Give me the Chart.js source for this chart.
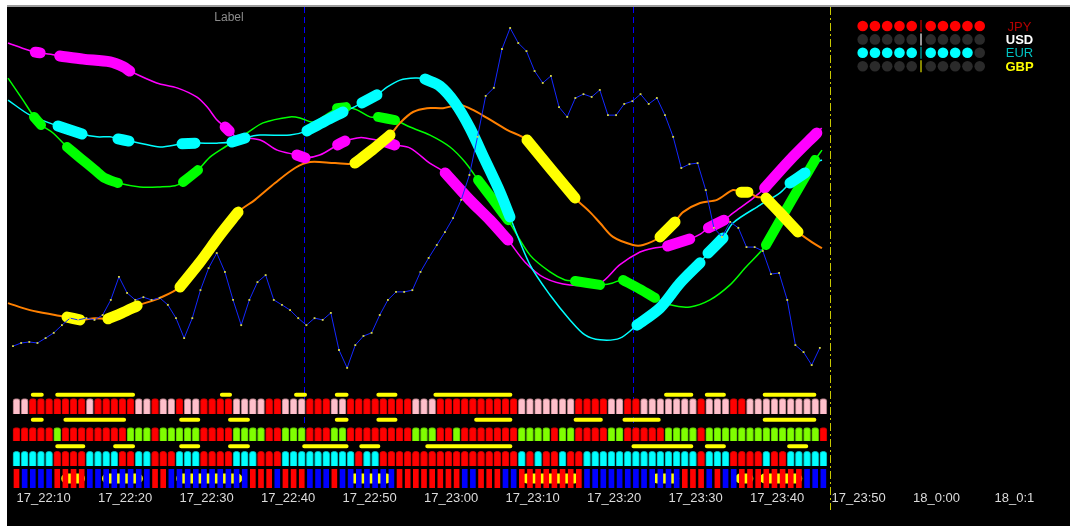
<!DOCTYPE html>
<html>
<head>
<meta charset="utf-8">
<script src="https://cdn.jsdelivr.net/npm/chart.js@4.4.1/dist/chart.umd.min.js"></script>
<style>
  html, body { margin: 0; padding: 0; background: #fff; }
  body { width: 1070px; height: 526px; overflow: hidden; position: relative; }
  #frame { position: absolute; left: 7px; top: 5px; width: 1063px; height: 521px; border-top: 2px solid #9c9c9c; box-sizing: border-box; background: #000; }
  canvas { display: block; }
</style>
</head>
<body>
<div id="frame"><canvas id="strengthChart" width="1063" height="519"></canvas></div>
<script>
// time axis: one bar per minute, minute 0 = 17_22:10
const tickMinutes = [0, 10, 20, 30, 40, 50, 60, 70, 80, 90, 100, 110, 120];
const tickLabels = ['17_22:10', '17_22:20', '17_22:30', '17_22:40', '17_22:50', '17_23:00',
    '17_23:10', '17_23:20', '17_23:30', '17_23:40', '17_23:50', '18_0:00', '18_0:1'];

// strength lines, [minute, value]
const magentaLine = [[-1.04,93.7],[1.4,91.7],[2.3,91.1],[2.9,90.9],[4.7,90.3],[5.3,90.0],[8.2,89.1],[11.5,88.3],[13.1,86.9],[13.9,85.7],
    [17.2,82.3],[19.7,80.9],[22.1,78.3],[23.4,75.4],[24.6,71.7],[25.6,69.7],[26.1,68.6],[27.0,66.9],[29.9,66.0],[32.0,63.1],
    [34.4,61.7],[35.4,60.9],[37.2,61.7],[39.4,64.6],[40.3,65.7],[41.8,66.6],[42.8,66.6],[45.3,65.4],[46.4,64.6],[48.3,63.7],
    [50.7,59.4],[52.6,56.6],[55.6,48.9],[58.1,43.1],[60.3,37.4],[62.4,31.1],[64.8,26.6],[67.9,24.6],[71.6,25.1],[74.0,30.3],
    [76.5,34.0],[78.1,35.1],[79.9,35.7],[82.6,37.7],[83.9,39.1],[84.9,40.9],[86.8,43.1],[87.9,45.1],[90.4,49.4],[91.8,52.3],
    [94.9,60.3],[98.2,68.0],[98.8,69.4]];
const magentaThick = [[2.3,2.9],[5.3,13.9],[25.6,26.1],[34.4,35.4],[39.4,40.3],[45.3,46.4],[52.6,60.3],[79.9,82.6],[84.9,86.8],[91.8,98.2]];

const greenLine = [[-1.04,83.7],[0.8,77.4],[2.15,72.6],[3.01,70.3],[4.48,68.0],[6.2,64.0],[7.79,60.9],[9.63,57.4],[10.86,55.1],[12.45,53.7],
    [15.15,52.6],[17.61,52.6],[19.45,52.9],[20.43,54.0],[22.27,57.4],[23.74,61.1],[25.58,64.0],[28.28,68.0],[30.25,70.9],[33.56,72.6],
    [34.79,72.3],[36.38,71.1],[37.6,72.6],[39.33,75.1],[40.43,75.4],[41.78,74.6],[43.37,72.6],[44.36,72.6],[46.44,71.7],[48.28,69.7],
    [50.74,67.4],[53.19,64.0],[55.03,59.7],[56.63,54.6],[58.47,48.9],[60.31,43.1],[63.01,33.1],[65.46,28.3],[67.3,26.0],[68.53,25.7],
    [71.6,24.6],[73.07,25.1],[74.42,26.0],[76.5,23.4],[78.34,20.9],[80.18,18.9],[82.64,18.3],[85.09,20.3],[87.55,24.6],[89.39,29.4],
    [91.96,36.0],[94.91,48.0],[97.98,60.3],[98.83,63.1]];
const greenThick = [[2.15,3.01],[6.2,12.45],[20.43,22.27],[39.33,40.43],[44.36,46.44],[56.63,60.31],[68.53,71.6],[74.42,78.34],[91.96,97.98]];

const cyanLine = [[-1.04,77.4],[1.66,73.1],[5.09,70.0],[8.04,67.7],[9.88,66.9],[11.47,66.9],[12.45,66.3],[13.8,65.7],[15.15,65.1],[17.61,64.0],
    [20.31,64.9],[21.9,65.1],[24.6,65.1],[26.44,65.4],[28.04,66.6],[29.88,67.4],[33.56,67.4],[35.64,68.6],[37.85,71.4],[40.06,74.0],
    [41.16,75.1],[42.39,76.6],[44.23,78.9],[45.46,81.1],[47.06,83.1],[48.9,83.7],[50.12,83.4],[51.96,81.4],[53.8,76.6],[55.64,69.4],
    [57.48,60.3],[59.33,51.1],[60.55,44.0],[63.01,30.3],[65.46,21.7],[67.91,14.6],[69.75,10.3],[71.6,8.9],[74.05,9.4],[76.13,13.1],
    [78.96,18.0],[81.41,25.1],[83.87,30.9],[84.85,33.7],[86.69,38.0],[87.91,42.3],[91.23,47.4],[93.68,50.9],[94.91,53.7],[96.75,56.6],
    [98.22,59.7],[98.83,60.3]];
const cyanThick = [[5.09,8.04],[12.45,13.8],[20.31,21.9],[26.44,28.04],[35.64,40.06],[42.39,44.23],[50.12,60.55],[76.13,83.87],[84.85,86.69],[94.91,96.75]];

const orangeLine = [[-1.04,19.4],[1.66,17.4],[4.72,16.0],[6.2,15.4],[7.79,14.6],[9.63,15.1],[11.23,14.9],[12.94,16.6],[14.79,18.6],[17.61,20.9],
    [20.06,24.0],[22.52,31.1],[24.97,38.9],[27.18,45.4],[29.26,48.9],[31.72,53.7],[34.17,58.0],[36.01,59.7],[39.08,59.4],[41.53,59.4],
    [43.62,63.1],[45.83,67.4],[47.06,70.9],[48.65,74.0],[50.37,75.1],[52.33,75.1],[54.42,76.0],[56.01,74.6],[57.73,72.3],[60.18,68.9],
    [62.64,66.0],[65.46,58.0],[68.53,49.4],[70.37,45.4],[71.6,42.3],[73.19,38.3],[75.64,36.0],[76.87,36.0],[78.96,38.3],[80.8,42.6],
    [81.78,45.4],[83.87,48.0],[85.95,48.9],[87.91,51.7],[88.9,51.1],[89.75,51.1],[90.86,49.7],[91.96,49.4],[93.93,44.6],[95.89,39.7],
    [97.73,36.6],[98.83,35.1]];
const yellowThick = [[6.2,7.79],[11.23,14.79],[20.06,27.18],[41.53,45.83],[62.64,68.53],[78.96,80.8],[88.9,89.75],[91.96,95.89]];

// price line, one value per minute
const blueVals = [7.1,8.0,8.3,8.0,9.4,10.9,13.1,15.1,14.6,15.1,
    14.6,16.0,20.3,26.9,22.3,20.3,21.1,20.3,20.9,18.9,
    15.1,9.4,15.1,23.1,29.4,33.7,28.3,20.3,13.1,20.3,
    25.4,27.4,20.3,18.9,17.4,15.1,13.1,15.1,14.6,16.6,
    6.0,0.9,7.4,10.0,10.9,16.0,20.3,22.6,22.6,23.1,
    28.3,32.3,36.0,39.7,43.7,48.9,56.0,66.9,78.6,80.9,
    92.0,98.0,93.7,91.4,85.7,82.3,84.3,75.4,72.6,78.0,
    79.1,78.3,80.3,73.1,73.1,76.3,77.1,79.1,76.3,78.0,
    73.1,66.9,58.0,59.1,59.4,51.7,40.9,38.3,42.6,40.9,
    35.4,35.4,34.3,27.7,28.0,20.3,7.4,5.4,1.7,6.6];

// signal rows, one letter per minute
const rowA = 'PPRRRRRRRPRRRRRPPRPPRPPRR' + 'RRPPPPRRPPPRRRPPRRRRRRRRP' + 'PPRRRRRRRRRRPPPPPPPRRRRPP' + 'RRPPPPPPPRPPPRRPPPPPPPPPP';
const rowB = 'RRRRRGRRRRRRRRGGGRGGGGGRR' + 'RRGGGGRRGGGRRRGGRRRRRRRRG' + 'GGRRGRRRRRRRGGGGRGGRRRRGG' + 'RRRRRGGGGRGGGGGGGGGGGGGGR';
const rowC = 'CCCCCRRRRCCCCRRCCRRRCCCRR' + 'RRCCCRRRCCCCCCCCCRCCRRRRR' + 'RRRRRRRRRRRRCRCRRCRRCCCCC' + 'CCCCCCCCCRCCCRRRRCRRCCCCC';
const rowD = 'RBBBBRRRRBBBBBBBBRRBBBBBB' + 'BBBBRRRBRRRBBBRBBBBBBBRRR' + 'RRRRRBBRRRBBRRRRRRRRBBBBB' + 'BBBBBBBRRRBRBBRRRRRRRRBBB';

// yellow signal spans per row [from, to] in minutes
const signalA = [[2.0,3.1],[5.0,14.3],[25.2,26.2],[34.3,35.4],[39.3,40.5],[44.4,46.5],[51.4,60.6],[79.7,82.8],[84.7,86.8],[91.8,97.9]];
const signalB = [[2.0,3.1],[6.0,13.2],[20.2,22.3],[26.2,28.4],[39.3,40.5],[44.4,46.5],[56.4,60.6],[68.6,71.7],[74.6,78.8],[91.8,97.9]];
const signalC = [[5.0,8.2],[12.1,14.3],[20.2,22.3],[26.2,28.4],[35.3,40.5],[42.3,44.4],[50.4,60.6],[75.7,82.8],[84.7,86.8],[94.8,96.9]];
const signalD = [[6.1,7.8],[11.1,14.9],[20.2,27.1],[41.4,45.4],[62.6,68.5],[78.6,80.7],[88.8,89.8],[91.8,95.8]];

// period separators and current bar
const separators = [35.3, 75.65];
const nowMinute = 99.8;

// currency legend
const legendNames = ['JPY', 'USD', 'EUR', 'GBP'];
const legendDots = [10, 0, 9, 0];

// ---- layout / style ----
const X_MIN = -1.1656, X_MAX = 129.264;
const ROW_A = [76, 91.5], ROW_B = [49, 62.5], ROW_C = [24, 38.7], ROW_D = [2.3, 20.7];
const SIG_A = 95.3, SIG_B = 70.2, SIG_C = 43.7, SIG_D = 11.5;
const BLUE_SHIFT = -0.43;

const fillColors = { P: '#ffc0cb', R: '#ff0000', G: '#80ff00', C: '#00ffff', B: '#0000ff' };
const edgeColors = { P: '#a07078', R: '#c00000', G: '#58b800', C: '#00aaaa', B: '#0000c0' };
const legendColors = ['#ff0000', '#ffffff', '#00ffff', '#ffff00'];
const legendText = ['#b40000', '#ffffff', '#00c0c0', '#ffff00'];
const legendBold = [false, true, false, true];
const legendSep = ['#a00000', '#c8c8c8', '#008c8c', '#b4b400'];

Chart.defaults.font.family = "'Liberation Sans', Arial, sans-serif";

function linePts(pts) {
    return pts.map(p => ({ x: p[0], y: p[1] }));
}

function thickPts(pts, ranges) {
    const out = [];
    ranges.forEach(r => {
        pts.filter(p => p[0] >= r[0] - 1e-6 && p[0] <= r[1] + 1e-6)
            .forEach(p => out.push({ x: p[0], y: p[1] }));
        out.push({ x: r[1] + 0.01, y: null });
    });
    return out;
}

function spanPts(ranges, level) {
    const out = [];
    ranges.forEach(r => {
        out.push({ x: r[0], y: level }, { x: r[1], y: level }, { x: r[1] + 0.01, y: null });
    });
    return out;
}

function barRow(states, span, thick, rounded, order) {
    const letters = states.split('');
    return {
        type: 'bar',
        yAxisID: 'yb',
        data: letters.map((s, i) => ({ x: i, y: span })),
        backgroundColor: letters.map(s => fillColors[s]),
        borderColor: letters.map(s => edgeColors[s]),
        borderWidth: rounded ? 1 : 0,
        borderSkipped: 'bottom',
        borderRadius: rounded ? { topLeft: 3, topRight: 3, bottomLeft: 0, bottomRight: 0 } : 0,
        barThickness: thick,
        maxBarThickness: thick,
        grouped: false,
        order: order
    };
}

function thinLine(pts, color, width, order) {
    return { type: 'line', yAxisID: 'y', data: linePts(pts), borderColor: color, borderWidth: width,
        pointRadius: 0, tension: 0.3, order: order };
}

function thickLine(pts, ranges, color, width, order) {
    return { type: 'line', yAxisID: 'y', data: thickPts(pts, ranges), borderColor: color, borderWidth: width,
        borderCapStyle: 'round', borderJoinStyle: 'round', pointRadius: 0, tension: 0.3, spanGaps: false, order: order };
}

function signalLine(ranges, level, width, order) {
    return { type: 'line', yAxisID: 'yb', data: spanPts(ranges, level), borderColor: '#ffff00', borderWidth: width,
        borderCapStyle: 'round', pointRadius: 0, spanGaps: false, order: order };
}

// separators, labels and legend
const overlayPlugin = {
    id: 'overlay',
    beforeDatasetsDraw(chart) {
        const { ctx, chartArea, scales } = chart;
        ctx.save();
        ctx.strokeStyle = '#0000ff';
        ctx.lineWidth = 1;
        ctx.setLineDash([6, 4]);
        const yEnd = scales.yb.getPixelForValue(62);
        separators.forEach(m => {
            const x = Math.round(scales.x.getPixelForValue(m)) + 0.5;
            ctx.beginPath();
            ctx.moveTo(x, chartArea.top);
            ctx.lineTo(x, yEnd);
            ctx.stroke();
        });
        ctx.restore();
    },
    afterDraw(chart) {
        const { ctx, chartArea, scales } = chart;
        ctx.save();

        // current bar marker
        const nx = Math.round(scales.x.getPixelForValue(nowMinute)) + 0.5;
        ctx.strokeStyle = '#c8c800';
        ctx.lineWidth = 1;
        ctx.setLineDash([8, 3, 2, 3]);
        ctx.beginPath();
        ctx.moveTo(nx, chartArea.top);
        ctx.lineTo(nx, scales.yb.getPixelForValue(-20));
        ctx.stroke();
        ctx.setLineDash([]);

        // window label
        ctx.fillStyle = '#8c8c8c';
        ctx.font = "12px 'Liberation Sans', Arial";
        ctx.textAlign = 'center';
        ctx.textBaseline = 'middle';
        ctx.fillText('Label', 222, 11);

        // currency dots
        const groupX = [855.7, 923.7];
        legendNames.forEach((name, r) => {
            const y = 19 + r * 13.4;
            for (let k = 0; k < 10; k++) {
                const x = groupX[Math.floor(k / 5)] + (k % 5) * 12.25;
                ctx.fillStyle = k < legendDots[r] ? legendColors[r] : '#2a2a2a';
                ctx.beginPath();
                ctx.arc(x, y, 5.3, 0, Math.PI * 2);
                ctx.fill();
            }
            ctx.strokeStyle = legendSep[r];
            ctx.lineWidth = 1.5;
            ctx.beginPath();
            ctx.moveTo(914, y - 6);
            ctx.lineTo(914, y + 6);
            ctx.stroke();

            ctx.fillStyle = legendText[r];
            ctx.font = (legendBold[r] ? 'bold ' : '') + "13px 'Liberation Sans', Arial";
            ctx.fillText(name, 1012.5, y + 1);
        });
        ctx.restore();
    }
};

const ctx = document.getElementById('strengthChart');
new Chart(ctx, {
    type: 'line',
    data: {
        datasets: [
            {
                type: 'line', yAxisID: 'y',
                data: blueVals.map((v, i) => ({ x: i + BLUE_SHIFT, y: v })),
                borderColor: '#1428ff', borderWidth: 1, tension: 0,
                pointRadius: 1.3, pointStyle: 'rect', pointBackgroundColor: '#d8d840', pointBorderWidth: 0,
                order: 1
            },
            thickLine(orangeLine, yellowThick, '#ffff00', 11, 2),
            thickLine(cyanLine, cyanThick, '#00ffff', 11, 3),
            thickLine(magentaLine, magentaThick, '#ff00ff', 11, 4),
            thickLine(greenLine, greenThick, '#00ff00', 10, 5),
            thinLine(orangeLine, '#ff8000', 2, 6),
            thinLine(cyanLine, '#00ffff', 1.5, 7),
            thinLine(greenLine, '#00ff00', 1.5, 8),
            thinLine(magentaLine, '#ff00ff', 1.5, 9),
            signalLine(signalA, SIG_A, 4, 10),
            signalLine(signalB, SIG_B, 4, 10),
            signalLine(signalC, SIG_C, 4, 10),
            barRow(rowA, ROW_A, 7, true, 11),
            barRow(rowB, ROW_B, 7, true, 11),
            barRow(rowC, ROW_C, 7, true, 11),
            barRow(rowD, ROW_D, 5, false, 11),
            signalLine(signalD, SIG_D, 10, 12)
        ]
    },
    options: {
        responsive: false,
        animation: false,
        layout: { padding: 0, autoPadding: false },
        plugins: {
            legend: { display: false },
            tooltip: { enabled: false }
        },
        scales: {
            x: {
                type: 'linear',
                min: X_MIN,
                max: X_MAX,
                offset: false,
                grid: { display: false, drawTicks: false, offset: false },
                border: { display: false },
                afterBuildTicks: scale => {
                    scale.ticks = tickMinutes.map(v => ({ value: v }));
                },
                afterFit: scale => {
                    scale.height = 36;
                },
                ticks: {
                    autoSkip: false,
                    maxRotation: 0,
                    minRotation: 0,
                    align: 'start',
                    padding: 1,
                    color: '#dcdcdc',
                    font: { size: 13 },
                    callback: function(value) {
                        const k = tickMinutes.indexOf(value);
                        return k >= 0 ? tickLabels[k] : '';
                    }
                }
            },
            y: { type: 'linear', display: false, min: -34, max: 104 },
            yb: { type: 'linear', display: false, min: 0, max: 483 }
        }
    },
    plugins: [overlayPlugin]
});
</script>
</body>
</html>
